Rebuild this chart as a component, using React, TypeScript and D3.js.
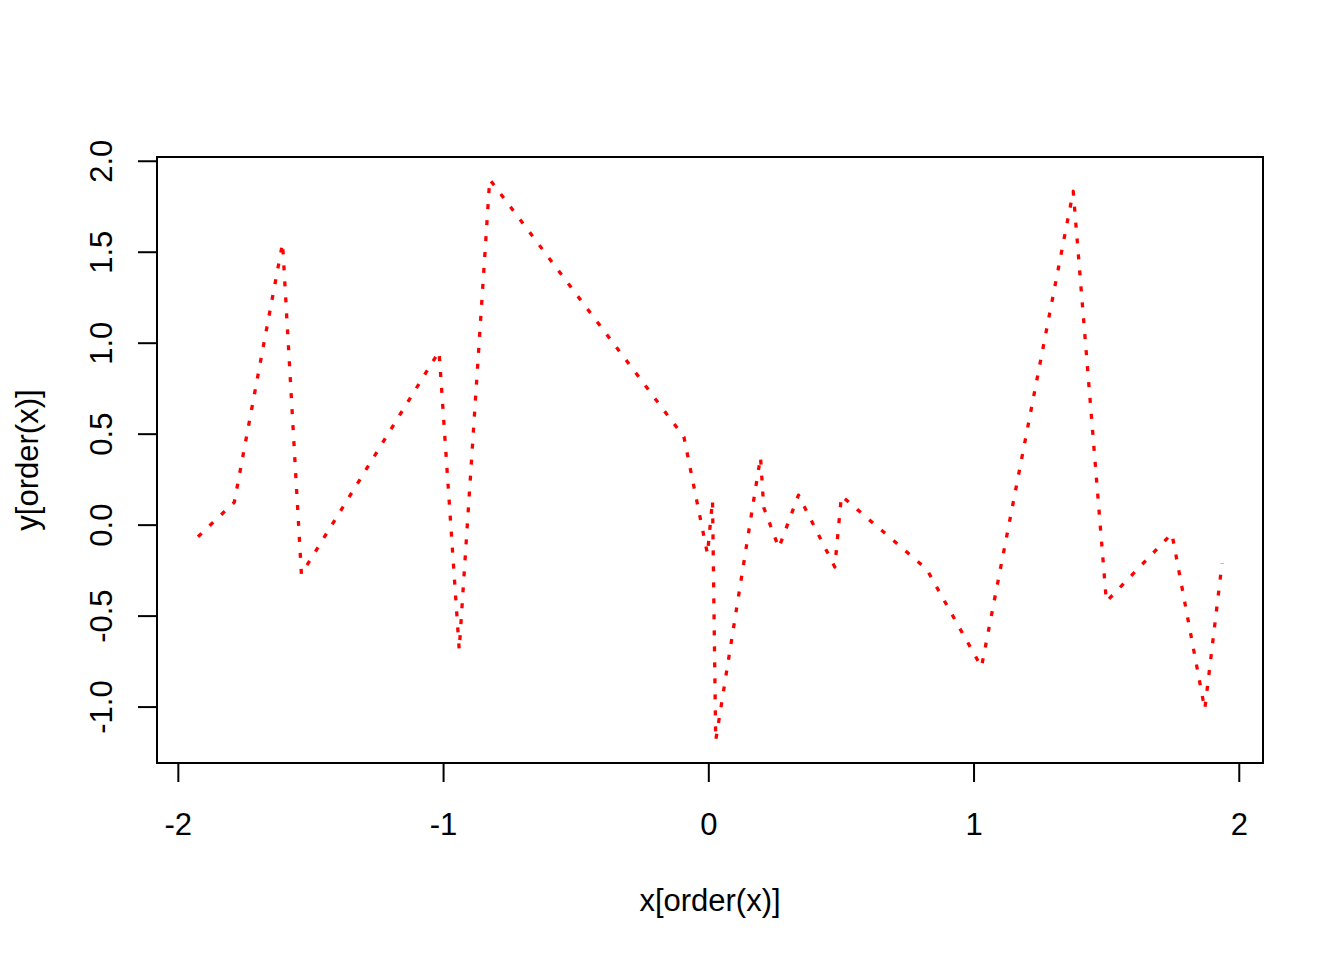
import React from "react";
import * as d3 from "d3";

// Data (x sorted, y in matching order)
const xValues: number[] = [
  -1.926, -1.789, -1.607, -1.536, -1.017, -0.941, -0.826, -0.094, -0.005, 0.014,
  0.026, 0.195, 0.207, 0.264, 0.338, 0.475, 0.5, 0.821, 1.028, 1.374,
  1.499, 1.746, 1.87, 1.935,
];
const yValues: number[] = [
  -0.064, 0.126, 1.55, -0.27, 0.955, -0.685, 1.9, 0.486, -0.159, 0.137,
  -1.184, 0.375, 0.097, -0.125, 0.165, -0.23, 0.161, -0.241, -0.78, 1.835,
  -0.42, -0.046, -1.012, -0.21,
];
const xTicks: number[] = [-2, -1, 0, 1, 2];
const yTicks: number[] = [-1.0, -0.5, 0.0, 0.5, 1.0, 1.5, 2.0];
const xTitle = "x[order(x)]";
const yTitle = "y[order(x)]";

const W = 1344;
const H = 960;
const margin = { left: 157, right: 81, top: 157, bottom: 197 };
const FONT = "'Liberation Sans', Arial, Helvetica, sans-serif";
const FS = 31;

function rRange(vals: number[]): [number, number] {
  const [lo, hi] = d3.extent(vals) as [number, number];
  const pad = (hi - lo) * 0.04;
  return [lo - pad, hi + pad];
}

export default function App() {
  const x = d3.scaleLinear().domain(rRange(xValues)).range([margin.left, W - margin.right]);
  const y = d3.scaleLinear().domain(rRange(yValues)).range([H - margin.bottom, margin.top]);
  const pts: [number, number][] = xValues.map((v, i) => [v, yValues[i]]);
  const line = d3
    .line<[number, number]>()
    .x((d) => x(d[0]))
    .y((d) => y(d[1]));

  const left = margin.left;
  const right = W - margin.right;
  const top = margin.top;
  const bottom = H - margin.bottom;
  const tick = 19;

  return (
    <svg
      width={W}
      height={H}
      style={{ position: "absolute", left: 0, top: 0, background: "#fff" }}
      fontFamily={FONT}
      fontSize={FS}
    >
      <rect x={0} y={0} width={W} height={H} fill="#fff" />
      <path
        d={line(pts) || ""}
        fill="none"
        stroke="#ff0000"
        strokeWidth={3.3}
        strokeDasharray="5 11"
        strokeLinejoin="round"
      />
      <rect
        x={left}
        y={top}
        width={right - left}
        height={bottom - top}
        fill="none"
        stroke="#000"
        strokeWidth={2}
      />
      {/* x axis */}
      <line x1={x(xTicks[0])} x2={x(xTicks[xTicks.length - 1])} y1={bottom} y2={bottom} stroke="#000" strokeWidth={2} />
      {xTicks.map((t) => (
        <g key={"xt" + t}>
          <line x1={x(t)} x2={x(t)} y1={bottom} y2={bottom + tick} stroke="#000" strokeWidth={2} />
          <text x={x(t)} y={835} textAnchor="middle" fill="#000">
            {String(t)}
          </text>
        </g>
      ))}
      {/* y axis */}
      <line x1={left} x2={left} y1={y(yTicks[0])} y2={y(yTicks[yTicks.length - 1])} stroke="#000" strokeWidth={2} />
      {yTicks.map((t) => (
        <g key={"yt" + t}>
          <line x1={left - tick} x2={left} y1={y(t)} y2={y(t)} stroke="#000" strokeWidth={2} />
          <text
            transform={`translate(112,${y(t)}) rotate(-90)`}
            textAnchor="middle"
            fill="#000"
          >
            {t.toFixed(1)}
          </text>
        </g>
      ))}
      <text x={(left + right) / 2} y={911} textAnchor="middle" fill="#000">
        {xTitle}
      </text>
      <text
        transform={`translate(38,${(top + bottom) / 2}) rotate(-90)`}
        textAnchor="middle"
        fill="#000"
      >
        {yTitle}
      </text>
    </svg>
  );
}
